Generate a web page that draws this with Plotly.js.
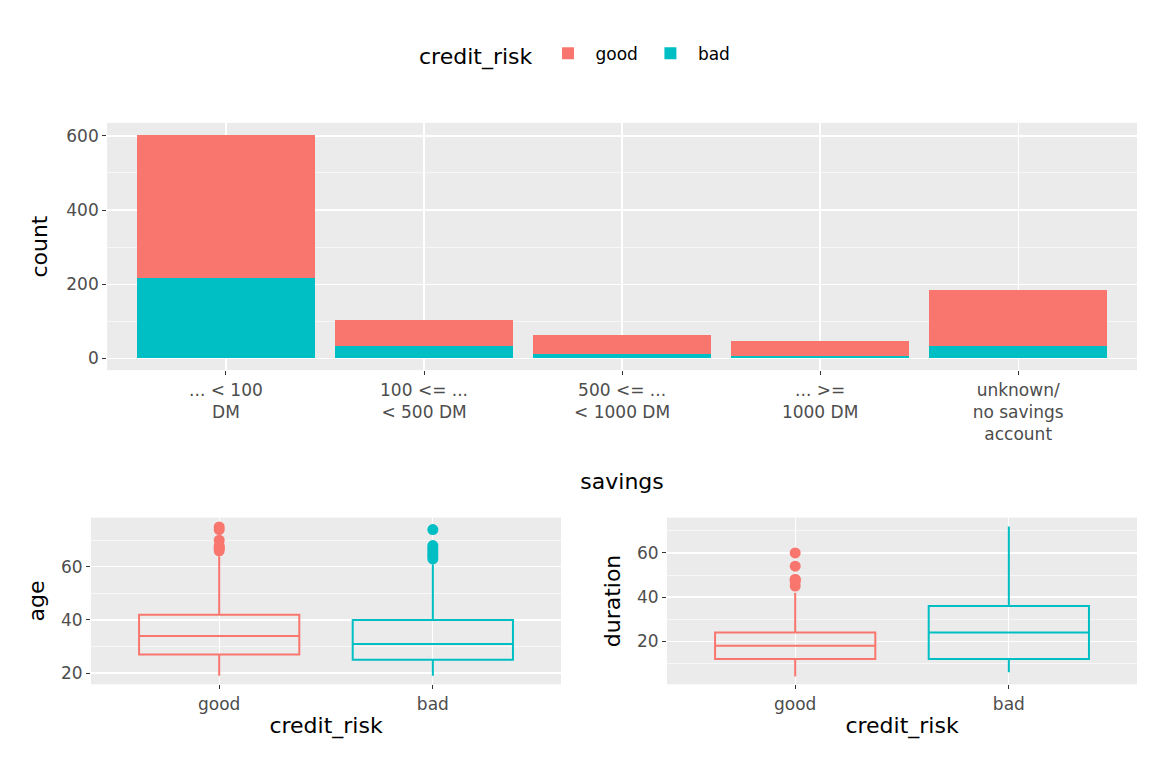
<!DOCTYPE html>
<html><head><meta charset="utf-8">
<script src="https://cdn.plot.ly/plotly-3.0.1.min.js"></script>
<style>body{margin:0}#c{width:1152px;height:768px}</style></head>
<body><div id="c"></div>
<script>
const savings = ["... < 100<br>DM","100 <= ...<br>< 500 DM","500 <= ...<br>< 1000 DM","... >=<br>1000 DM","unknown/<br>no savings<br>account"];
const goodCounts = [386, 69, 52, 42, 151];
const badCounts = [217, 34, 11, 6, 32];
const risk = ["good","bad"];
const ageQ1 = [27, 25], ageMed = [34, 31], ageQ3 = [42, 40], ageLo = [19, 19], ageHi = [64, 61];
const ageOutGood = [66,67,67,68,70,74,75], ageOutBad = [63,64,65,66,67,68,74];
const durQ1 = [12, 12], durMed = [18, 24], durQ3 = [24, 36], durLo = [4, 6], durHi = [42, 72];
const durOutGood = [45,47,48,48,54,60];
const RED = "#F8766D", CYAN = "#00BFC4";

function boxes(xa, ya, q1, med, q3, lo, hi){
  return risk.map((r,i)=>({type:"box", x:[r], q1:[q1[i]], median:[med[i]], q3:[q3[i]],
    lowerfence:[lo[i]], upperfence:[hi[i]], xaxis:xa, yaxis:ya, showlegend:false,
    line:{color:i?CYAN:RED, width:2}, fillcolor:"rgba(0,0,0,0)", width:0.75, whiskerwidth:0, hoverinfo:"skip"}));
}
function outs(xa, ya, r, vals, col){
  return {type:"scatter", mode:"markers", x:vals.map(()=>r), y:vals, xaxis:xa, yaxis:ya,
    marker:{color:col, size:11}, showlegend:false};
}
const data = [
  {type:"bar", name:"bad", x:savings, y:badCounts, marker:{color:CYAN}, width:0.9, legendrank:2},
  {type:"bar", name:"good", x:savings, y:goodCounts, marker:{color:RED}, width:0.9, legendrank:1},
  ...boxes("x2","y2",ageQ1,ageMed,ageQ3,ageLo,ageHi),
  outs("x2","y2","good",ageOutGood,RED), outs("x2","y2","bad",ageOutBad,CYAN),
  ...boxes("x3","y3",durQ1,durMed,durQ3,durLo,durHi),
  outs("x3","y3","good",durOutGood,RED)
];
const tf = {family:"DejaVu Sans", size:17, color:"#4D4D4D"};
const titleF = {family:"DejaVu Sans", size:22, color:"#000"};
const minor = {showgrid:true, gridcolor:"#FFFFFF", gridwidth:0.6};
function ax(extra){ return Object.assign({showgrid:true, gridcolor:"#FFFFFF", gridwidth:1.3, zeroline:false,
  tickfont:tf, ticks:"outside", ticklen:4, tickcolor:"#333", showline:false}, extra); }
const layout = {
  width:1152, height:768, paper_bgcolor:"#FFFFFF", plot_bgcolor:"#EBEBEB",
  margin:{l:0,r:0,t:0,b:0}, barmode:"stack",
  font:{family:"DejaVu Sans"},
  legend:{orientation:"h", x:0.5, xanchor:"center", y:0.928, yanchor:"middle",
    title:{text:"credit_risk", font:titleF}, font:{size:17,color:"#000"}, traceorder:"normal", itemwidth:45},
  xaxis: ax({domain:[0.093,0.987], anchor:"y", type:"category", range:[-0.6,4.6], title:{text:"savings", font:titleF, standoff:30}}),
  yaxis: ax({domain:[0.518,0.840], anchor:"x", range:[-32,635], tickvals:[0,200,400,600], minor:Object.assign({tickvals:[100,300,500]},minor), title:{text:"count", font:titleF, standoff:12}}),
  xaxis2: ax({domain:[0.079,0.487], anchor:"y2", type:"category", categoryorder:"array", categoryarray:risk, range:[-0.6,1.6], title:{text:"credit_risk", font:titleF, standoff:4}}),
  yaxis2: ax({domain:[0.109,0.326], anchor:"x2", range:[15.8,78.5], tickvals:[20,40,60], minor:Object.assign({tickvals:[30,50,70]},minor), title:{text:"age", font:titleF, standoff:10}}),
  xaxis3: ax({domain:[0.579,0.987], anchor:"y3", type:"category", categoryorder:"array", categoryarray:risk, range:[-0.6,1.6], title:{text:"credit_risk", font:titleF, standoff:4}}),
  yaxis3: ax({domain:[0.109,0.326], anchor:"x3", range:[0.5,76], tickvals:[20,40,60], minor:Object.assign({tickvals:[10,30,50,70]},minor), title:{text:"duration", font:titleF, standoff:10}})
};
Plotly.newPlot("c", data, layout, {staticPlot:true});
</script></body></html>
